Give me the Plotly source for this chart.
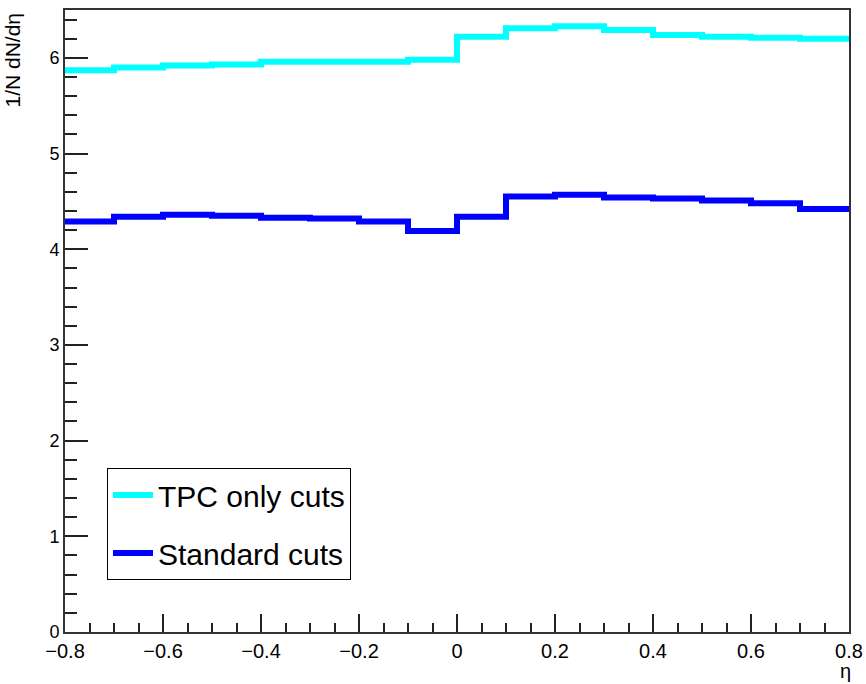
import plotly.graph_objects as go

# bin edges in eta
edges = [-0.8, -0.7, -0.6, -0.5, -0.4, -0.3, -0.2, -0.1, 0.0,
         0.1, 0.2, 0.3, 0.4, 0.5, 0.6, 0.7, 0.8]
tpc_only = [5.87, 5.90, 5.92, 5.93, 5.96, 5.96, 5.96, 5.98,
            6.22, 6.31, 6.33, 6.29, 6.24, 6.22, 6.21, 6.20]
standard = [4.29, 4.34, 4.36, 4.35, 4.33, 4.32, 4.29, 4.19,
            4.34, 4.55, 4.57, 4.54, 4.53, 4.51, 4.48, 4.42]
x_ticks = [-0.8, -0.6, -0.4, -0.2, 0, 0.2, 0.4, 0.6, 0.8]
x_ticklabels = ["\u22120.8", "\u22120.6", "\u22120.4", "\u22120.2", "0", "0.2", "0.4", "0.6", "0.8"]
y_ticks = [0, 1, 2, 3, 4, 5, 6]

REG = "Liberation Sans, Arial"

fig = go.Figure()
fig.add_trace(go.Scatter(x=edges, y=tpc_only + [tpc_only[-1]], mode="lines",
                         line=dict(color="#00FFFF", width=6, shape="hv"),
                         name="TPC only cuts", legendgroup="a"))
fig.add_trace(go.Scatter(x=edges, y=standard + [standard[-1]], mode="lines",
                         line=dict(color="#0000FF", width=6, shape="hv"),
                         name="Standard cuts", legendgroup="b"))

fig.update_layout(
    width=866, height=684,
    margin=dict(l=65, r=17, t=10, b=52, autoexpand=False),
    paper_bgcolor="white", plot_bgcolor="white",
    showlegend=True,
    legend=dict(x=(107 - 65) / 784, y=(632 - 468) / 622, xanchor="left", yanchor="top",
                bgcolor="white", bordercolor="black", borderwidth=1,
                font=dict(family=REG, size=30, color="black"),
                itemwidth=40, tracegroupgap=16),
    xaxis=dict(range=[-0.8, 0.8], tickvals=x_ticks, ticktext=x_ticklabels,
               automargin=False,
               ticks="inside", ticklen=18, tickwidth=1.5, tickcolor="#222",
               minor=dict(dtick=0.05, ticks="inside", ticklen=9, tickwidth=1.5, tickcolor="#222"),
               showline=True, linecolor="#333", linewidth=2, mirror=True,
               showgrid=False, zeroline=False,
               tickfont=dict(family=REG, size=20, color="black")),
    yaxis=dict(range=[0, 6.5], tickvals=y_ticks, automargin=False,
               ticks="inside", ticklen=23, tickwidth=1.5, tickcolor="#222",
               minor=dict(dtick=0.2, ticks="inside", ticklen=12, tickwidth=1.5, tickcolor="#222"),
               showline=True, linecolor="#333", linewidth=2, mirror=True,
               showgrid=False, zeroline=False,
               tickfont=dict(family=REG, size=18, color="black")),
    annotations=[
        dict(text="1/N dN/d\u03b7", xref="paper", yref="paper",
             x=(12 - 65) / 784, y=1.0, xanchor="center", yanchor="top",
             textangle=-90, showarrow=False,
             font=dict(family=REG, size=21, color="black")),
        dict(text="\u03b7", xref="paper", yref="paper",
             x=(845 - 65) / 784, y=-(671 - 632) / 622, xanchor="center", yanchor="middle",
             showarrow=False, font=dict(family=REG, size=20, color="black")),
    ],
)

fig.write_html("out.html")
